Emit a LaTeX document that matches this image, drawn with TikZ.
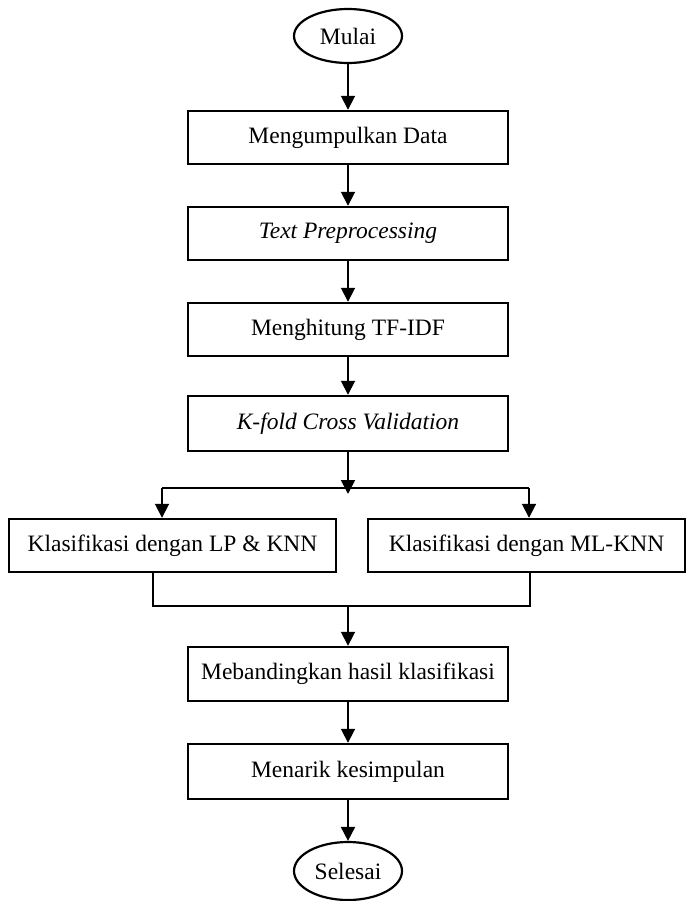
\documentclass[tikz,border=0pt]{standalone}
\usepackage{fontspec}
\setmainfont{Liberation Serif}
\usetikzlibrary{shapes.geometric,arrows.meta,calc}
\begin{document}
\begin{tikzpicture}[x=1pt,y=-1pt,
  every node/.style={font=\fontsize{23.5}{28}\selectfont},
  procbox/.style={draw,line width=2.4pt,rectangle,inner sep=0pt,minimum height=53pt},
  term/.style={draw,line width=2.2pt,ellipse,inner sep=0pt,minimum width=108pt},
  conn/.style={line width=1.8pt},
  arr/.style={conn,-{Triangle[width=14pt,length=14pt]}}]
\useasboundingbox (0,0) rectangle (687,901);
\node[term,minimum height=54pt] (start) at (348,36) {Mulai};
\node[procbox,minimum width=320pt] (b1) at (348,137.5) {Mengumpulkan Data};
\node[procbox,minimum width=320pt] (b2) at (348,233.5) {\itshape Text Preprocessing};
\node[procbox,minimum width=320pt] (b3) at (348,329.5) {Menghitung TF-IDF};
\node[procbox,minimum width=320pt,minimum height=55pt] (b4) at (348,423.5) {\itshape K-fold Cross Validation};
\node[procbox,minimum width=327pt] (L) at (172.5,545.5) {Klasifikasi dengan LP \& KNN};
\node[procbox,minimum width=317pt] (R) at (526.5,545.5) {Klasifikasi dengan ML-KNN};
\node[procbox,minimum width=320pt,minimum height=54pt] (b5) at (348,674) {Mebandingkan hasil klasifikasi};
\node[procbox,minimum width=320pt,minimum height=55pt] (b6) at (348,771.5) {Menarik kesimpulan};
\node[term,minimum height=58pt] (end) at (348,871) {Selesai};
\coordinate (split) at (348,494);
\coordinate (jl) at (162,488);
\coordinate (jr) at (529,488);
\coordinate (ml) at (153,606);
\coordinate (mr) at (530,606);
\coordinate (mc) at (348,606);
\draw[arr] (start) -- (b1);
\draw[arr] (b1) -- (b2);
\draw[arr] (b2) -- (b3);
\draw[arr] (b3) -- (b4);
\draw[conn] (jl) -- (jr);
\draw[arr] (b4) -- (split);
\draw[arr] (jl) -- (jl |- L.north);
\draw[arr] (jr) -- (jr |- R.north);
\draw[conn] (ml |- L.south) -- (ml) -- (mr) -- (mr |- R.south);
\draw[arr] (mc) -- (b5);
\draw[arr] (b5) -- (b6);
\draw[arr] (b6) -- (end);
\end{tikzpicture}
\end{document}
